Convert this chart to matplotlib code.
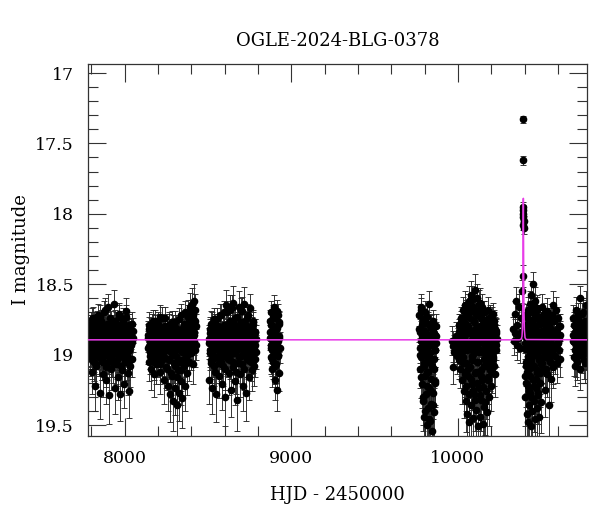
import numpy as np
import matplotlib
matplotlib.use("Agg")
import matplotlib.pyplot as plt
from matplotlib.ticker import MultipleLocator, FuncFormatter

TITLE = "OGLE-2024-BLG-0378"
XLABEL = "HJD - 2450000"
YLABEL = "I magnitude"

# ---- Season 1 ----
S1_T = [7788, 7790, 7793, 7796, 7798, 7800, 7803, 7805, 7808, 7811,
        7813, 7816, 7818, 7821, 7823, 7826, 7829, 7831, 7834, 7836,
        7839, 7842, 7844, 7847, 7849, 7852, 7855, 7857, 7860, 7862,
        7865, 7868, 7870, 7873, 7875, 7878, 7881, 7883, 7886, 7888,
        7891, 7894, 7896, 7899, 7901, 7904, 7907, 7909, 7912, 7914,
        7917, 7920, 7922, 7925, 7927, 7930, 7933, 7935, 7938, 7940,
        7943, 7946, 7948, 7951, 7953, 7956, 7959, 7961, 7964, 7966,
        7969, 7972, 7974, 7977, 7979, 7982, 7985, 7987, 7990, 7992,
        7995, 7998, 8000, 8003, 8005, 8008, 8011, 8013, 8016, 8018,
        8021, 8024, 8026, 8029, 8031, 8034, 8038, 8042, 8047, 8053]
S1_M = [18.85, 18.93, 19.02, 18.78, 18.96, 18.88, 19.12, 18.81, 18.99, 18.91,
        18.74, 19.05, 18.87, 18.95, 19.22, 18.83, 18.90, 19.08, 18.79, 18.97,
        18.86, 18.72, 19.01, 18.92, 18.84, 19.27, 18.89, 18.98, 18.76, 19.04,
        18.94, 18.82, 19.14, 18.88, 18.70, 18.96, 19.00, 18.85, 19.18, 18.91,
        18.80, 18.93, 19.06, 18.87, 18.66, 18.99, 19.29, 18.84, 18.95, 18.90,
        18.77, 19.10, 18.92, 18.86, 19.03, 18.81, 18.97, 18.64, 18.89, 19.24,
        18.94, 18.83, 19.07, 18.78, 18.91, 18.99, 19.16, 18.86, 18.73, 18.95,
        19.02, 18.88, 19.28, 18.80, 18.93, 18.98, 18.84, 19.11, 18.90, 18.75,
        18.96, 19.21, 18.87, 19.05, 18.82, 18.92, 18.69, 19.00, 18.89, 19.13,
        18.85, 18.97, 19.26, 18.79, 18.94, 19.08, 18.86, 18.91, 19.03, 18.83]
S1_E = [0.09, 0.11, 0.13, 0.08, 0.12, 0.10, 0.16, 0.09, 0.12, 0.10,
        0.08, 0.14, 0.10, 0.11, 0.18, 0.09, 0.11, 0.15, 0.08, 0.12,
        0.10, 0.08, 0.13, 0.11, 0.09, 0.19, 0.10, 0.12, 0.08, 0.14,
        0.11, 0.09, 0.16, 0.10, 0.08, 0.12, 0.13, 0.10, 0.17, 0.11,
        0.09, 0.11, 0.14, 0.10, 0.09, 0.12, 0.20, 0.09, 0.12, 0.10,
        0.08, 0.15, 0.11, 0.10, 0.13, 0.09, 0.12, 0.10, 0.10, 0.18,
        0.11, 0.09, 0.14, 0.08, 0.11, 0.12, 0.16, 0.10, 0.08, 0.11,
        0.13, 0.10, 0.19, 0.09, 0.11, 0.12, 0.09, 0.15, 0.10, 0.08,
        0.12, 0.17, 0.10, 0.14, 0.09, 0.11, 0.09, 0.13, 0.10, 0.16,
        0.10, 0.12, 0.19, 0.08, 0.11, 0.15, 0.10, 0.11, 0.13, 0.09]
S1B_T = [7789, 7792, 7795, 7799, 7802, 7806, 7809, 7812, 7815, 7819,
         7822, 7825, 7828, 7832, 7835, 7838, 7841, 7845, 7848, 7851,
         7854, 7858, 7861, 7864, 7867, 7871, 7874, 7877, 7880, 7884,
         7887, 7890, 7893, 7897, 7900, 7903, 7906, 7910, 7913, 7916,
         7919, 7923, 7926, 7929, 7932, 7936, 7939, 7942, 7945, 7949,
         7952, 7955, 7958, 7962, 7965, 7968, 7971, 7975, 7978, 7981,
         7984, 7988, 7991, 7994, 7997, 8001, 8004, 8007, 8010, 8014,
         8017, 8020, 8023, 8027, 8030, 8033, 8036, 8040, 8044, 8050]
S1B_M = [18.90, 18.81, 18.97, 18.86, 19.04, 18.75, 18.93, 18.88, 19.00, 18.79,
         18.95, 18.84, 19.07, 18.91, 18.77, 18.98, 18.87, 18.82, 19.02, 18.94,
         18.73, 18.89, 18.99, 18.85, 19.05, 18.92, 18.80, 18.96, 18.68, 18.87,
         19.09, 18.83, 18.93, 18.78, 19.01, 18.90, 18.86, 18.97, 18.74, 19.03,
         18.88, 18.95, 18.81, 19.06, 18.91, 18.84, 18.99, 18.76, 18.93, 18.87,
         19.04, 18.79, 18.96, 18.89, 18.71, 19.00, 18.85, 18.92, 19.08, 18.82,
         18.94, 18.88, 18.77, 19.02, 18.90, 18.84, 18.98, 18.73, 18.95, 19.05,
         18.86, 18.91, 18.80, 18.97, 18.89, 19.03, 18.83, 18.93, 18.78, 18.88]
S1B_E = [0.10, 0.09, 0.12, 0.10, 0.13, 0.08, 0.11, 0.10, 0.12, 0.09,
         0.11, 0.09, 0.14, 0.11, 0.08, 0.12, 0.10, 0.09, 0.13, 0.11,
         0.08, 0.10, 0.12, 0.10, 0.13, 0.11, 0.09, 0.12, 0.08, 0.10,
         0.14, 0.09, 0.11, 0.08, 0.13, 0.10, 0.10, 0.12, 0.08, 0.13,
         0.10, 0.11, 0.09, 0.14, 0.11, 0.09, 0.12, 0.08, 0.11, 0.10,
         0.13, 0.09, 0.12, 0.10, 0.08, 0.12, 0.10, 0.11, 0.14, 0.09,
         0.11, 0.10, 0.08, 0.13, 0.10, 0.09, 0.12, 0.08, 0.11, 0.13,
         0.10, 0.11, 0.09, 0.12, 0.10, 0.13, 0.09, 0.11, 0.08, 0.10]

# ---- Season 2 ----
S2_T = [8140, 8143, 8146, 8149, 8152, 8155, 8158, 8161, 8163, 8166,
        8169, 8172, 8175, 8178, 8181, 8184, 8187, 8189, 8192, 8195,
        8198, 8201, 8204, 8207, 8210, 8213, 8215, 8218, 8221, 8224,
        8227, 8230, 8233, 8236, 8239, 8241, 8244, 8247, 8250, 8253,
        8256, 8259, 8262, 8265, 8267, 8270, 8273, 8276, 8279, 8282,
        8285, 8288, 8291, 8293, 8296, 8299, 8302, 8305, 8308, 8311,
        8314, 8317, 8319, 8322, 8325, 8328, 8331, 8334, 8337, 8340,
        8343, 8345, 8348, 8351, 8354, 8357, 8360, 8363, 8366, 8369,
        8371, 8374, 8377, 8380, 8383, 8386, 8389, 8392, 8395, 8397,
        8400, 8403, 8406, 8409, 8412, 8415, 8418, 8421, 8425, 8430]
S2_M = [18.95, 18.88, 19.05, 18.82, 18.98, 18.91, 19.10, 18.86, 18.79, 19.01,
        18.93, 18.84, 19.14, 18.89, 18.76, 18.97, 18.90, 19.07, 18.83, 18.94,
        18.87, 19.02, 18.80, 18.96, 18.73, 18.91, 19.12, 18.85, 18.99, 18.88,
        19.04, 18.81, 18.93, 19.18, 18.86, 18.74, 18.97, 18.90, 19.09, 18.84,
        18.95, 19.22, 18.88, 18.79, 19.03, 18.92, 19.28, 18.85, 18.98, 19.15,
        18.87, 19.33, 18.94, 18.81, 19.06, 18.90, 19.24, 18.77, 19.01, 18.93,
        19.36, 18.86, 19.11, 18.96, 18.83, 19.27, 18.91, 19.04, 18.72, 19.19,
        18.89, 19.31, 18.97, 18.84, 19.08, 18.78, 19.22, 18.93, 18.87, 19.02,
        18.80, 18.95, 19.13, 18.70, 18.88, 19.05, 18.76, 18.92, 18.66, 18.99,
        18.83, 18.64, 18.94, 18.74, 19.07, 18.62, 18.86, 18.68, 18.97, 18.80]
S2_E = [0.12, 0.10, 0.14, 0.09, 0.12, 0.11, 0.15, 0.10, 0.08, 0.13,
        0.11, 0.09, 0.16, 0.10, 0.08, 0.12, 0.11, 0.14, 0.09, 0.11,
        0.10, 0.13, 0.09, 0.12, 0.08, 0.11, 0.16, 0.10, 0.12, 0.10,
        0.14, 0.09, 0.11, 0.17, 0.10, 0.08, 0.12, 0.11, 0.15, 0.09,
        0.12, 0.18, 0.10, 0.09, 0.13, 0.11, 0.20, 0.10, 0.12, 0.16,
        0.10, 0.21, 0.11, 0.09, 0.14, 0.11, 0.19, 0.08, 0.13, 0.11,
        0.22, 0.10, 0.15, 0.12, 0.09, 0.20, 0.11, 0.13, 0.08, 0.17,
        0.10, 0.21, 0.12, 0.09, 0.14, 0.09, 0.18, 0.11, 0.10, 0.13,
        0.09, 0.12, 0.16, 0.09, 0.10, 0.14, 0.08, 0.11, 0.10, 0.12,
        0.09, 0.11, 0.11, 0.09, 0.14, 0.12, 0.10, 0.11, 0.12, 0.09]
S2B_T = [8141, 8145, 8148, 8152, 8156, 8159, 8163, 8166, 8170, 8174,
         8177, 8181, 8184, 8188, 8192, 8195, 8199, 8202, 8206, 8210,
         8213, 8217, 8220, 8224, 8228, 8231, 8235, 8238, 8242, 8246,
         8249, 8253, 8256, 8260, 8264, 8267, 8271, 8274, 8278, 8282,
         8285, 8289, 8292, 8296, 8300, 8303, 8307, 8310, 8314, 8318,
         8321, 8325, 8328, 8332, 8336, 8339, 8343, 8346, 8350, 8354,
         8357, 8361, 8364, 8368, 8372, 8375, 8379, 8382, 8386, 8390,
         8393, 8397, 8400, 8404, 8408, 8411, 8415, 8418, 8422, 8427]
S2B_M = [18.86, 18.94, 18.79, 19.01, 18.89, 18.83, 18.97, 18.91, 18.76, 19.05,
         18.88, 18.92, 18.81, 18.99, 18.85, 19.03, 18.78, 18.93, 18.87, 18.96,
         19.07, 18.82, 18.90, 18.74, 18.98, 18.86, 19.02, 18.91, 18.80, 18.95,
         18.88, 19.10, 18.84, 18.97, 18.79, 19.04, 18.92, 18.86, 19.13, 18.90,
         18.77, 19.00, 18.94, 18.83, 19.08, 18.89, 18.96, 18.81, 19.16, 18.87,
         18.93, 18.75, 19.05, 18.91, 18.85, 19.11, 18.82, 18.98, 18.88, 19.03,
         18.79, 18.94, 18.70, 18.90, 19.00, 18.84, 18.73, 18.96, 18.86, 18.78,
         18.92, 18.69, 18.88, 18.81, 18.97, 18.72, 18.90, 18.84, 18.76, 18.93]
S2B_E = [0.10, 0.11, 0.09, 0.13, 0.10, 0.09, 0.12, 0.11, 0.08, 0.13,
         0.10, 0.11, 0.09, 0.12, 0.10, 0.13, 0.08, 0.11, 0.10, 0.12,
         0.14, 0.09, 0.11, 0.08, 0.12, 0.10, 0.13, 0.11, 0.09, 0.12,
         0.10, 0.15, 0.09, 0.12, 0.08, 0.13, 0.11, 0.10, 0.16, 0.11,
         0.08, 0.12, 0.11, 0.09, 0.14, 0.10, 0.12, 0.09, 0.17, 0.10,
         0.11, 0.08, 0.13, 0.11, 0.10, 0.15, 0.09, 0.12, 0.10, 0.13,
         0.09, 0.11, 0.08, 0.10, 0.12, 0.09, 0.08, 0.12, 0.10, 0.09,
         0.11, 0.08, 0.10, 0.09, 0.12, 0.08, 0.10, 0.09, 0.08, 0.11]

# ---- Season 3 ----
S3_T = [8505, 8508, 8511, 8513, 8516, 8519, 8522, 8525, 8528, 8531,
        8533, 8536, 8539, 8542, 8545, 8548, 8551, 8553, 8556, 8559,
        8562, 8565, 8568, 8571, 8573, 8576, 8579, 8582, 8585, 8588,
        8591, 8593, 8596, 8599, 8602, 8605, 8608, 8611, 8613, 8616,
        8619, 8622, 8625, 8628, 8631, 8633, 8636, 8639, 8642, 8645,
        8648, 8651, 8653, 8656, 8659, 8662, 8665, 8668, 8671, 8673,
        8676, 8679, 8682, 8685, 8688, 8691, 8693, 8696, 8699, 8702,
        8705, 8708, 8711, 8713, 8716, 8719, 8722, 8725, 8728, 8731,
        8733, 8736, 8739, 8742, 8745, 8748, 8751, 8753, 8756, 8759,
        8762, 8765, 8768, 8771, 8773, 8776, 8779, 8782, 8785, 8789]
S3_M = [18.92, 19.18, 18.85, 18.99, 18.78, 19.06, 18.88, 19.24, 18.95, 18.82,
        19.03, 18.90, 18.75, 19.12, 18.87, 18.96, 19.28, 18.84, 18.93, 19.01,
        18.80, 18.97, 19.15, 18.89, 18.72, 19.05, 18.91, 18.86, 19.21, 18.94,
        18.83, 19.08, 18.70, 18.98, 18.88, 19.30, 18.93, 18.65, 19.02, 18.86,
        18.95, 18.78, 19.13, 18.90, 18.68, 19.04, 18.84, 19.25, 18.97, 18.81,
        18.91, 18.63, 19.09, 18.87, 18.99, 18.74, 19.19, 18.92, 18.85, 19.32,
        18.96, 18.80, 19.06, 18.66, 18.89, 19.14, 18.94, 18.77, 19.01, 18.86,
        18.69, 19.22, 18.93, 18.83, 19.10, 18.64, 18.98, 18.88, 19.27, 18.79,
        18.95, 19.03, 18.72, 18.91, 19.16, 18.85, 18.97, 18.67, 19.05, 18.90,
        18.82, 19.11, 18.94, 18.76, 19.00, 18.87, 19.08, 18.84, 18.93, 18.98]
S3_E = [0.11, 0.17, 0.10, 0.12, 0.09, 0.14, 0.10, 0.18, 0.11, 0.09,
        0.13, 0.11, 0.08, 0.15, 0.10, 0.12, 0.20, 0.09, 0.11, 0.13,
        0.09, 0.12, 0.16, 0.10, 0.08, 0.14, 0.11, 0.10, 0.18, 0.11,
        0.09, 0.14, 0.08, 0.12, 0.10, 0.21, 0.11, 0.11, 0.13, 0.10,
        0.11, 0.09, 0.16, 0.11, 0.10, 0.13, 0.09, 0.19, 0.12, 0.09,
        0.11, 0.12, 0.15, 0.10, 0.12, 0.08, 0.17, 0.11, 0.10, 0.22,
        0.12, 0.09, 0.14, 0.11, 0.10, 0.16, 0.11, 0.08, 0.13, 0.10,
        0.10, 0.18, 0.11, 0.09, 0.15, 0.12, 0.12, 0.10, 0.20, 0.09,
        0.11, 0.13, 0.08, 0.11, 0.16, 0.10, 0.12, 0.10, 0.14, 0.10,
        0.09, 0.15, 0.11, 0.08, 0.13, 0.10, 0.14, 0.09, 0.11, 0.12]
S3B_T = [8506, 8510, 8513, 8517, 8520, 8524, 8527, 8531, 8534, 8538,
         8542, 8545, 8549, 8552, 8556, 8559, 8563, 8566, 8570, 8574,
         8577, 8581, 8584, 8588, 8591, 8595, 8598, 8602, 8606, 8609,
         8613, 8616, 8620, 8623, 8627, 8630, 8634, 8638, 8641, 8645,
         8648, 8652, 8655, 8659, 8662, 8666, 8670, 8673, 8677, 8680,
         8684, 8687, 8691, 8694, 8698, 8702, 8705, 8709, 8712, 8716,
         8719, 8723, 8726, 8730, 8734, 8737, 8741, 8744, 8748, 8751,
         8755, 8758, 8762, 8766, 8769, 8773, 8776, 8780, 8783, 8787]
S3B_M = [18.89, 18.97, 18.82, 19.04, 18.91, 18.78, 18.99, 18.86, 19.08, 18.93,
         18.80, 18.95, 18.88, 19.02, 18.75, 18.92, 18.85, 19.06, 18.90, 18.83,
         18.98, 18.72, 18.94, 18.87, 19.01, 18.79, 18.91, 19.10, 18.84, 18.96,
         18.70, 18.89, 19.03, 18.82, 18.93, 18.76, 19.00, 18.88, 18.95, 18.67,
         18.86, 19.05, 18.91, 18.78, 18.98, 18.84, 19.12, 18.90, 18.73, 18.96,
         18.87, 19.02, 18.81, 18.94, 18.69, 18.89, 19.07, 18.85, 18.97, 18.77,
         18.92, 19.00, 18.83, 18.88, 18.95, 18.74, 19.04, 18.90, 18.86, 18.99,
         18.81, 18.93, 18.87, 19.01, 18.78, 18.91, 18.96, 18.84, 19.03, 18.89]
S3B_E = [0.10, 0.12, 0.09, 0.13, 0.11, 0.08, 0.12, 0.10, 0.14, 0.11,
         0.09, 0.12, 0.10, 0.13, 0.08, 0.11, 0.10, 0.14, 0.11, 0.09,
         0.12, 0.08, 0.11, 0.10, 0.13, 0.09, 0.11, 0.15, 0.09, 0.12,
         0.08, 0.10, 0.13, 0.09, 0.11, 0.08, 0.12, 0.10, 0.12, 0.09,
         0.10, 0.14, 0.11, 0.08, 0.12, 0.09, 0.16, 0.11, 0.08, 0.12,
         0.10, 0.13, 0.09, 0.11, 0.09, 0.10, 0.14, 0.10, 0.12, 0.08,
         0.11, 0.12, 0.09, 0.10, 0.12, 0.08, 0.13, 0.11, 0.10, 0.12,
         0.09, 0.11, 0.10, 0.13, 0.08, 0.11, 0.12, 0.09, 0.13, 0.10]

# ---- Season 4 ----
S4_T = [8872, 8874, 8876, 8878, 8880, 8882, 8884, 8886, 8888, 8890,
        8892, 8894, 8896, 8898, 8900, 8902, 8904, 8906, 8908, 8910,
        8912, 8914, 8916, 8918, 8920, 8922, 8924, 8926, 8928, 8930,
        8873, 8877, 8881, 8885, 8889, 8893, 8897, 8901, 8905, 8909,
        8913, 8917, 8921, 8925, 8929]
S4_M = [18.88, 18.76, 19.02, 18.93, 18.70, 19.10, 18.85, 18.97, 18.80, 19.05,
        18.91, 18.66, 18.99, 18.83, 19.18, 18.89, 18.74, 19.07, 18.94, 18.86,
        19.25, 18.81, 18.96, 18.72, 19.01, 18.90, 18.78, 19.13, 18.87, 18.95,
        18.84, 18.95, 18.79, 19.03, 18.90, 18.73, 18.98, 18.87, 19.08, 18.82,
        18.93, 18.69, 19.00, 18.88, 18.77]
S4_E = [0.09, 0.08, 0.12, 0.10, 0.08, 0.13, 0.09, 0.11, 0.08, 0.12,
        0.10, 0.08, 0.11, 0.09, 0.14, 0.10, 0.08, 0.13, 0.10, 0.09,
        0.15, 0.09, 0.11, 0.08, 0.12, 0.10, 0.08, 0.13, 0.09, 0.11,
        0.09, 0.11, 0.08, 0.12, 0.10, 0.08, 0.11, 0.09, 0.13, 0.09,
        0.10, 0.08, 0.12, 0.10, 0.08]

# ---- Season 5 ----
S5_T = [9768, 9770, 9772, 9774, 9776, 9778, 9780, 9782, 9784, 9786,
        9788, 9790, 9792, 9794, 9796, 9798, 9800, 9802, 9804, 9806,
        9808, 9810, 9812, 9814, 9816, 9818, 9820, 9822, 9824, 9826,
        9828, 9830, 9832, 9834, 9836, 9838, 9840, 9842, 9844, 9846,
        9848, 9850, 9852, 9854, 9856, 9858, 9860, 9862, 9866, 9871,
        9769, 9773, 9777, 9781, 9785, 9789, 9793, 9797, 9801, 9805,
        9809, 9813, 9817, 9821, 9825, 9829, 9833, 9837, 9841, 9845,
        9849, 9853, 9857, 9861, 9864, 9868]
S5_M = [18.72, 18.95, 18.84, 19.10, 18.66, 18.90, 19.02, 18.79, 19.21, 18.87,
        18.98, 19.33, 18.75, 19.06, 18.92, 19.44, 18.83, 19.15, 18.70, 19.28,
        19.01, 18.88, 19.50, 18.96, 19.12, 18.78, 19.38, 18.91, 19.05, 18.64,
        19.24, 18.86, 19.47, 18.99, 19.17, 18.81, 19.35, 18.93, 19.08, 19.54,
        18.89, 19.27, 18.76, 19.41, 19.03, 18.85, 19.19, 18.97, 18.80, 18.92,
        18.82, 19.00, 18.68, 19.16, 18.91, 19.30, 18.77, 19.08, 18.86, 19.40,
        18.95, 19.22, 18.73, 19.12, 18.88, 19.46, 19.03, 18.80, 19.26, 18.93,
        19.36, 18.84, 19.10, 18.97, 19.20, 18.87]
S5_E = [0.08, 0.11, 0.09, 0.14, 0.09, 0.10, 0.13, 0.08, 0.17, 0.10,
        0.12, 0.21, 0.08, 0.14, 0.11, 0.24, 0.09, 0.16, 0.08, 0.20,
        0.13, 0.10, 0.26, 0.12, 0.15, 0.08, 0.22, 0.11, 0.14, 0.09,
        0.18, 0.10, 0.25, 0.12, 0.16, 0.09, 0.21, 0.11, 0.14, 0.27,
        0.10, 0.19, 0.08, 0.23, 0.13, 0.10, 0.17, 0.12, 0.09, 0.11,
        0.09, 0.12, 0.08, 0.15, 0.11, 0.20, 0.08, 0.14, 0.10, 0.23,
        0.12, 0.18, 0.08, 0.15, 0.10, 0.25, 0.13, 0.09, 0.19, 0.11,
        0.22, 0.09, 0.14, 0.12, 0.17, 0.10]

# ---- Season 6 (early sparse + dense) ----
S6A_T = [9964, 9968, 9973, 9979, 9986, 9993]
S6A_M = [18.90, 18.94, 19.09, 18.98, 18.87, 19.01]
S6A_E = [0.10, 0.11, 0.12, 0.12, 0.10, 0.13]

S6_T = [10000, 10002, 10004, 10006, 10009, 10011, 10013, 10015, 10017, 10019,
        10021, 10023, 10026, 10028, 10030, 10032, 10034, 10036, 10038, 10040,
        10043, 10045, 10047, 10049, 10051, 10053, 10055, 10057, 10060, 10062,
        10064, 10066, 10068, 10070, 10072, 10074, 10077, 10079, 10081, 10083,
        10085, 10087, 10089, 10091, 10094, 10096, 10098, 10100, 10102, 10104,
        10106, 10108, 10111, 10113, 10115, 10117, 10119, 10121, 10123, 10125,
        10128, 10130, 10132, 10134, 10136, 10138, 10140, 10142, 10145, 10147,
        10149, 10151, 10153, 10155, 10157, 10159, 10162, 10164, 10166, 10168,
        10170, 10172, 10174, 10176, 10179, 10181, 10183, 10185, 10187, 10189,
        10191, 10193, 10196, 10198, 10200, 10202, 10204, 10206, 10208, 10210,
        10213, 10215, 10217, 10219, 10221, 10223, 10225, 10227, 10230, 10233]
S6_M = [18.88, 18.96, 18.79, 19.04, 18.91, 18.83, 19.10, 18.86, 18.99, 18.74,
        18.93, 19.18, 18.81, 18.68, 19.02, 18.89, 19.26, 18.77, 18.95, 19.12,
        18.65, 18.90, 19.33, 18.84, 19.06, 18.72, 19.42, 18.97, 18.80, 19.15,
        18.62, 18.92, 19.48, 18.85, 19.09, 18.70, 19.36, 18.96, 18.58, 19.21,
        18.83, 19.01, 18.66, 19.45, 18.89, 18.76, 19.28, 18.54, 18.94, 19.13,
        18.71, 19.39, 18.87, 18.60, 19.05, 18.81, 19.51, 18.91, 18.69, 19.24,
        18.98, 18.63, 19.44, 18.84, 19.11, 18.74, 19.32, 18.90, 18.66, 19.18,
        18.86, 19.49, 18.79, 19.03, 18.70, 19.37, 18.93, 18.82, 19.26, 18.97,
        19.08, 18.75, 19.41, 18.88, 18.68, 19.16, 18.92, 19.30, 18.80, 18.99,
        18.73, 19.06, 18.87, 19.22, 18.78, 18.95, 19.12, 18.84, 18.71, 19.02,
        18.90, 18.81, 19.08, 18.76, 18.96, 18.86, 19.14, 18.83, 18.93, 18.89]
S6_E = [0.09, 0.11, 0.08, 0.13, 0.10, 0.09, 0.14, 0.09, 0.12, 0.08,
        0.11, 0.17, 0.08, 0.09, 0.13, 0.10, 0.19, 0.08, 0.11, 0.15,
        0.10, 0.10, 0.22, 0.09, 0.14, 0.08, 0.25, 0.12, 0.08, 0.16,
        0.11, 0.11, 0.26, 0.09, 0.14, 0.09, 0.23, 0.12, 0.10, 0.18,
        0.09, 0.13, 0.09, 0.25, 0.10, 0.08, 0.20, 0.11, 0.11, 0.15,
        0.08, 0.24, 0.10, 0.10, 0.14, 0.09, 0.27, 0.11, 0.09, 0.19,
        0.12, 0.10, 0.25, 0.09, 0.15, 0.08, 0.22, 0.10, 0.09, 0.17,
        0.10, 0.26, 0.08, 0.13, 0.08, 0.23, 0.11, 0.09, 0.20, 0.12,
        0.14, 0.08, 0.24, 0.10, 0.09, 0.16, 0.11, 0.21, 0.09, 0.12,
        0.08, 0.14, 0.10, 0.18, 0.08, 0.12, 0.15, 0.09, 0.08, 0.13,
        0.10, 0.09, 0.14, 0.08, 0.12, 0.10, 0.16, 0.09, 0.11, 0.10]
S6B_T = [10001, 10004, 10007, 10010, 10013, 10016, 10018, 10021, 10024, 10027,
         10030, 10033, 10036, 10039, 10042, 10045, 10047, 10050, 10053, 10056,
         10059, 10062, 10065, 10068, 10071, 10074, 10076, 10079, 10082, 10085,
         10088, 10091, 10094, 10097, 10100, 10103, 10105, 10108, 10111, 10114,
         10117, 10120, 10123, 10126, 10129, 10132, 10134, 10137, 10140, 10143,
         10146, 10149, 10152, 10155, 10158, 10161, 10163, 10166, 10169, 10172,
         10175, 10178, 10181, 10184, 10187, 10190, 10192, 10195, 10198, 10201,
         10204, 10207, 10210, 10213, 10216, 10219, 10221, 10224, 10227, 10231]
S6B_M = [18.91, 18.84, 18.98, 18.80, 18.93, 19.02, 18.87, 18.77, 18.95, 18.89,
         19.06, 18.82, 18.73, 18.97, 19.14, 18.86, 18.69, 19.22, 18.92, 18.79,
         19.10, 18.66, 18.95, 19.28, 18.84, 18.74, 19.17, 18.90, 18.61, 19.04,
         18.87, 19.25, 18.77, 18.99, 19.32, 18.82, 18.68, 19.12, 18.93, 18.72,
         19.20, 18.86, 19.05, 18.64, 18.96, 19.29, 18.80, 18.91, 19.15, 18.75,
         18.98, 19.23, 18.85, 18.70, 19.08, 18.89, 19.34, 18.78, 18.94, 19.01,
         18.83, 19.18, 18.90, 18.76, 19.05, 18.87, 18.95, 19.11, 18.81, 18.92,
         18.74, 18.99, 18.86, 19.03, 18.79, 18.93, 18.88, 18.82, 18.97, 18.85]
S6B_E = [0.10, 0.09, 0.12, 0.09, 0.11, 0.13, 0.10, 0.08, 0.12, 0.10,
         0.14, 0.09, 0.08, 0.12, 0.16, 0.10, 0.08, 0.18, 0.11, 0.09,
         0.15, 0.09, 0.12, 0.20, 0.09, 0.08, 0.17, 0.11, 0.10, 0.13,
         0.10, 0.19, 0.08, 0.12, 0.22, 0.09, 0.09, 0.15, 0.11, 0.08,
         0.18, 0.10, 0.13, 0.10, 0.12, 0.21, 0.09, 0.11, 0.16, 0.08,
         0.12, 0.19, 0.10, 0.08, 0.14, 0.10, 0.23, 0.09, 0.11, 0.13,
         0.09, 0.17, 0.11, 0.08, 0.13, 0.10, 0.12, 0.15, 0.09, 0.11,
         0.08, 0.12, 0.10, 0.13, 0.09, 0.11, 0.10, 0.09, 0.12, 0.10]

# ---- Season 7 (pre-peak, peak, post-peak) ----
S7A_T = [10332, 10336, 10340, 10344, 10348, 10352, 10356, 10360, 10365, 10370,
         10376, 10381, 10385, 10388]
S7A_M = [18.82, 18.90, 18.71, 18.85, 18.62, 18.93, 18.79, 18.88, 18.66, 18.95,
         18.84, 18.74, 18.55, 18.44]
S7A_E = [0.09, 0.10, 0.09, 0.10, 0.10, 0.11, 0.09, 0.10, 0.09, 0.11,
         0.10, 0.09, 0.08, 0.08]

PK_T = [10392.0, 10392.3, 10392.6, 10393.0, 10393.2, 10393.4, 10393.6, 10393.9, 10394.2]
PK_M = [18.08, 18.02, 17.97, 17.33, 17.95, 17.62, 18.00, 18.05, 18.10]
PK_E = [0.035, 0.035, 0.035, 0.027, 0.035, 0.03, 0.035, 0.035, 0.04]

S7B_T = [10400, 10402, 10404, 10405, 10407, 10409, 10411, 10413, 10414, 10416,
         10418, 10420, 10422, 10423, 10425, 10427, 10429, 10431, 10432, 10434,
         10436, 10438, 10440, 10441, 10443, 10445, 10447, 10449, 10450, 10452,
         10454, 10456, 10458, 10459, 10461, 10463, 10465, 10467, 10468, 10470,
         10472, 10474, 10476, 10477, 10479, 10481, 10483, 10485, 10486, 10488,
         10490, 10492, 10494, 10496, 10498, 10500, 10503, 10506, 10509, 10512,
         10515, 10518, 10521, 10524, 10527, 10530, 10533, 10536, 10539, 10542,
         10545, 10548, 10551, 10554, 10557, 10560, 10563, 10566, 10569, 10572,
         10575, 10578, 10581, 10584, 10587, 10590, 10593, 10596, 10599, 10602,
         10604, 10606, 10608, 10610, 10612]
S7B_M = [18.92, 19.15, 18.80, 19.30, 18.87, 19.05, 18.72, 19.42, 18.95, 18.83,
         19.22, 18.68, 19.48, 18.90, 19.10, 18.76, 19.36, 18.98, 18.64, 19.27,
         18.85, 19.51, 18.58, 19.03, 18.79, 19.40, 18.93, 18.50, 19.18, 18.88,
         19.33, 18.70, 19.08, 18.82, 19.46, 18.96, 18.62, 19.24, 18.86, 18.74,
         19.13, 18.91, 19.38, 18.67, 19.01, 18.84, 19.29, 18.97, 18.73, 19.44,
         18.89, 19.20, 18.78, 19.07, 18.95, 19.34, 18.83, 18.66, 19.11, 18.92,
         19.02, 18.75, 18.88, 19.25, 18.81, 18.97, 18.69, 19.14, 18.86, 18.93,
         19.36, 18.79, 19.05, 18.90, 18.72, 19.17, 18.84, 18.98, 18.65, 19.09,
         18.87, 18.76, 19.01, 18.93, 18.68, 18.95, 19.06, 18.82, 18.91, 18.74,
         18.89, 18.97, 18.80, 19.03, 18.86]
S7B_E = [0.11, 0.16, 0.09, 0.21, 0.10, 0.14, 0.08, 0.25, 0.12, 0.09,
         0.17, 0.09, 0.27, 0.11, 0.15, 0.08, 0.23, 0.12, 0.09, 0.19,
         0.10, 0.28, 0.10, 0.13, 0.08, 0.24, 0.11, 0.09, 0.17, 0.10,
         0.22, 0.08, 0.14, 0.09, 0.26, 0.12, 0.10, 0.18, 0.10, 0.08,
         0.16, 0.11, 0.23, 0.09, 0.13, 0.09, 0.20, 0.12, 0.08, 0.25,
         0.10, 0.17, 0.08, 0.14, 0.12, 0.22, 0.09, 0.09, 0.15, 0.11,
         0.13, 0.08, 0.10, 0.19, 0.09, 0.12, 0.09, 0.16, 0.10, 0.11,
         0.22, 0.09, 0.14, 0.11, 0.08, 0.17, 0.09, 0.12, 0.10, 0.15,
         0.10, 0.09, 0.13, 0.11, 0.09, 0.12, 0.14, 0.09, 0.11, 0.08,
         0.10, 0.12, 0.09, 0.13, 0.10]
S7C_T = [10401, 10403, 10406, 10408, 10410, 10412, 10415, 10417, 10419, 10421,
         10424, 10426, 10428, 10430, 10433, 10435, 10437, 10439, 10442, 10444,
         10446, 10448, 10451, 10453, 10455, 10457, 10460, 10462, 10464, 10466,
         10469, 10471, 10473, 10475, 10478, 10480, 10482, 10484, 10487, 10489,
         10491, 10495, 10499, 10502, 10505, 10508, 10511, 10514, 10517, 10520,
         10523, 10526, 10529, 10532, 10535, 10538, 10541, 10544, 10547, 10550,
         10553, 10556, 10559, 10562, 10565, 10568, 10571, 10586, 10598, 10611]
S7C_M = [18.87, 18.96, 19.08, 18.79, 19.20, 18.90, 18.83, 19.12, 18.74, 19.02,
         18.93, 19.26, 18.81, 18.97, 18.70, 19.15, 18.88, 19.05, 18.77, 19.31,
         18.92, 18.66, 19.09, 18.85, 19.22, 18.95, 18.73, 19.00, 18.89, 19.17,
         18.80, 18.99, 18.68, 19.11, 18.86, 19.27, 18.94, 18.78, 19.04, 18.90,
         18.84, 19.13, 18.97, 18.76, 19.06, 18.88, 18.93, 18.71, 19.01, 18.85,
         18.96, 18.79, 19.10, 18.91, 18.83, 18.98, 18.75, 19.03, 18.87, 18.94,
         18.81, 19.00, 18.89, 18.72, 18.95, 18.86, 19.07, 18.84, 18.92, 18.80]
S7C_E = [0.10, 0.12, 0.14, 0.09, 0.17, 0.11, 0.09, 0.15, 0.08, 0.13,
         0.11, 0.19, 0.09, 0.12, 0.08, 0.16, 0.10, 0.13, 0.09, 0.21,
         0.11, 0.09, 0.14, 0.10, 0.17, 0.12, 0.08, 0.12, 0.10, 0.16,
         0.09, 0.12, 0.09, 0.15, 0.10, 0.19, 0.11, 0.08, 0.13, 0.11,
         0.09, 0.15, 0.12, 0.08, 0.14, 0.10, 0.11, 0.08, 0.13, 0.10,
         0.12, 0.09, 0.14, 0.11, 0.09, 0.12, 0.08, 0.13, 0.10, 0.11,
         0.09, 0.12, 0.10, 0.08, 0.12, 0.10, 0.14, 0.09, 0.11, 0.09]

# ---- Season 8 ----
S8_T = [10690, 10693, 10696, 10699, 10702, 10705, 10708, 10711, 10714, 10717,
        10720, 10723, 10726, 10729, 10732, 10735, 10738, 10741, 10744, 10747,
        10750, 10753, 10756, 10759, 10762, 10765, 10768, 10771, 10774, 10778,
        10691, 10695, 10700, 10704, 10709, 10713, 10718, 10722, 10727, 10731,
        10736, 10740, 10745, 10749, 10754, 10758, 10763, 10767, 10772, 10776]
S8_M = [18.86, 18.74, 19.02, 18.91, 18.80, 19.08, 18.68, 18.95, 18.83, 19.05,
        18.89, 18.72, 18.98, 18.85, 18.60, 19.10, 18.93, 18.78, 19.00, 18.87,
        18.70, 18.96, 18.82, 19.04, 18.90, 18.76, 18.65, 18.99, 18.84, 18.92,
        18.90, 18.79, 18.97, 18.84, 19.03, 18.88, 18.75, 18.94, 18.81, 19.00,
        18.86, 18.92, 18.71, 18.98, 18.85, 18.89, 19.06, 18.80, 18.93, 18.87]
S8_E = [0.10, 0.09, 0.13, 0.11, 0.09, 0.14, 0.09, 0.12, 0.10, 0.13,
        0.11, 0.09, 0.12, 0.10, 0.09, 0.15, 0.11, 0.09, 0.13, 0.10,
        0.09, 0.12, 0.10, 0.13, 0.11, 0.09, 0.10, 0.12, 0.10, 0.11,
        0.10, 0.09, 0.12, 0.09, 0.13, 0.10, 0.08, 0.11, 0.09, 0.12,
        0.10, 0.11, 0.08, 0.12, 0.10, 0.10, 0.14, 0.09, 0.11, 0.10]

# ---- Model curve ----
MODEL_T = [7780, 10370, 10380, 10385, 10388, 10390, 10391.5, 10393,
           10394.5, 10396, 10399, 10403, 10410, 10780]
MODEL_M = [18.895, 18.895, 18.89, 18.87, 18.80, 18.62, 18.25, 17.89,
           18.30, 18.62, 18.82, 18.88, 18.893, 18.895]

T_SETS = [S1_T, S1B_T, S2_T, S2B_T, S3_T, S3B_T, S4_T, S5_T, S6A_T, S6_T, S6B_T,
          S7A_T, PK_T, S7B_T, S7C_T, S8_T]
M_SETS = [S1_M, S1B_M, S2_M, S2B_M, S3_M, S3B_M, S4_M, S5_M, S6A_M, S6_M, S6B_M,
          S7A_M, PK_M, S7B_M, S7C_M, S8_M]
E_SETS = [S1_E, S1B_E, S2_E, S2B_E, S3_E, S3B_E, S4_E, S5_E, S6A_E, S6_E, S6B_E,
          S7A_E, PK_E, S7B_E, S7C_E, S8_E]
t = np.concatenate(T_SETS)
m = np.concatenate(M_SETS)
e = np.concatenate(E_SETS)

plt.rcParams['font.family'] = ['DejaVu Serif']
fig = plt.figure(figsize=(6.0, 5.12), dpi=100)
ax = fig.add_axes([88/600, 1-436/512, (587-88)/600, (436-64)/512])

ax.errorbar(t, m, yerr=e, fmt='o', ms=4.5, color='black', ecolor='#262626',
            elinewidth=0.65, capsize=2.3, capthick=0.65, zorder=2)
ax.plot(MODEL_T, MODEL_M, color='#e83ce8', lw=1.1, zorder=3)

ax.set_xlim(7780, 10775)
ax.set_ylim(19.578, 16.936)

ax.xaxis.set_major_locator(MultipleLocator(1000))
ax.xaxis.set_minor_locator(MultipleLocator(200))
ax.yaxis.set_major_locator(MultipleLocator(0.5))
ax.yaxis.set_minor_locator(MultipleLocator(0.1))
ax.yaxis.set_major_formatter(FuncFormatter(lambda v, p: ('%g' % v)))

ax.tick_params(which='both', direction='in', top=True, right=True, width=0.8,
               colors='#333333', labelcolor='black', labelsize=12.5)
ax.tick_params(which='major', length=13, pad=10)
ax.tick_params(which='minor', length=7)
for s in ax.spines.values():
    s.set_linewidth(0.9)
    s.set_color('#333333')

ax.set_xlabel(XLABEL, fontsize=13, labelpad=14)
ax.set_ylabel(YLABEL, fontsize=13, labelpad=4)
ax.set_title(TITLE, fontsize=13, pad=13)

fig.savefig('out.png', dpi=100)
